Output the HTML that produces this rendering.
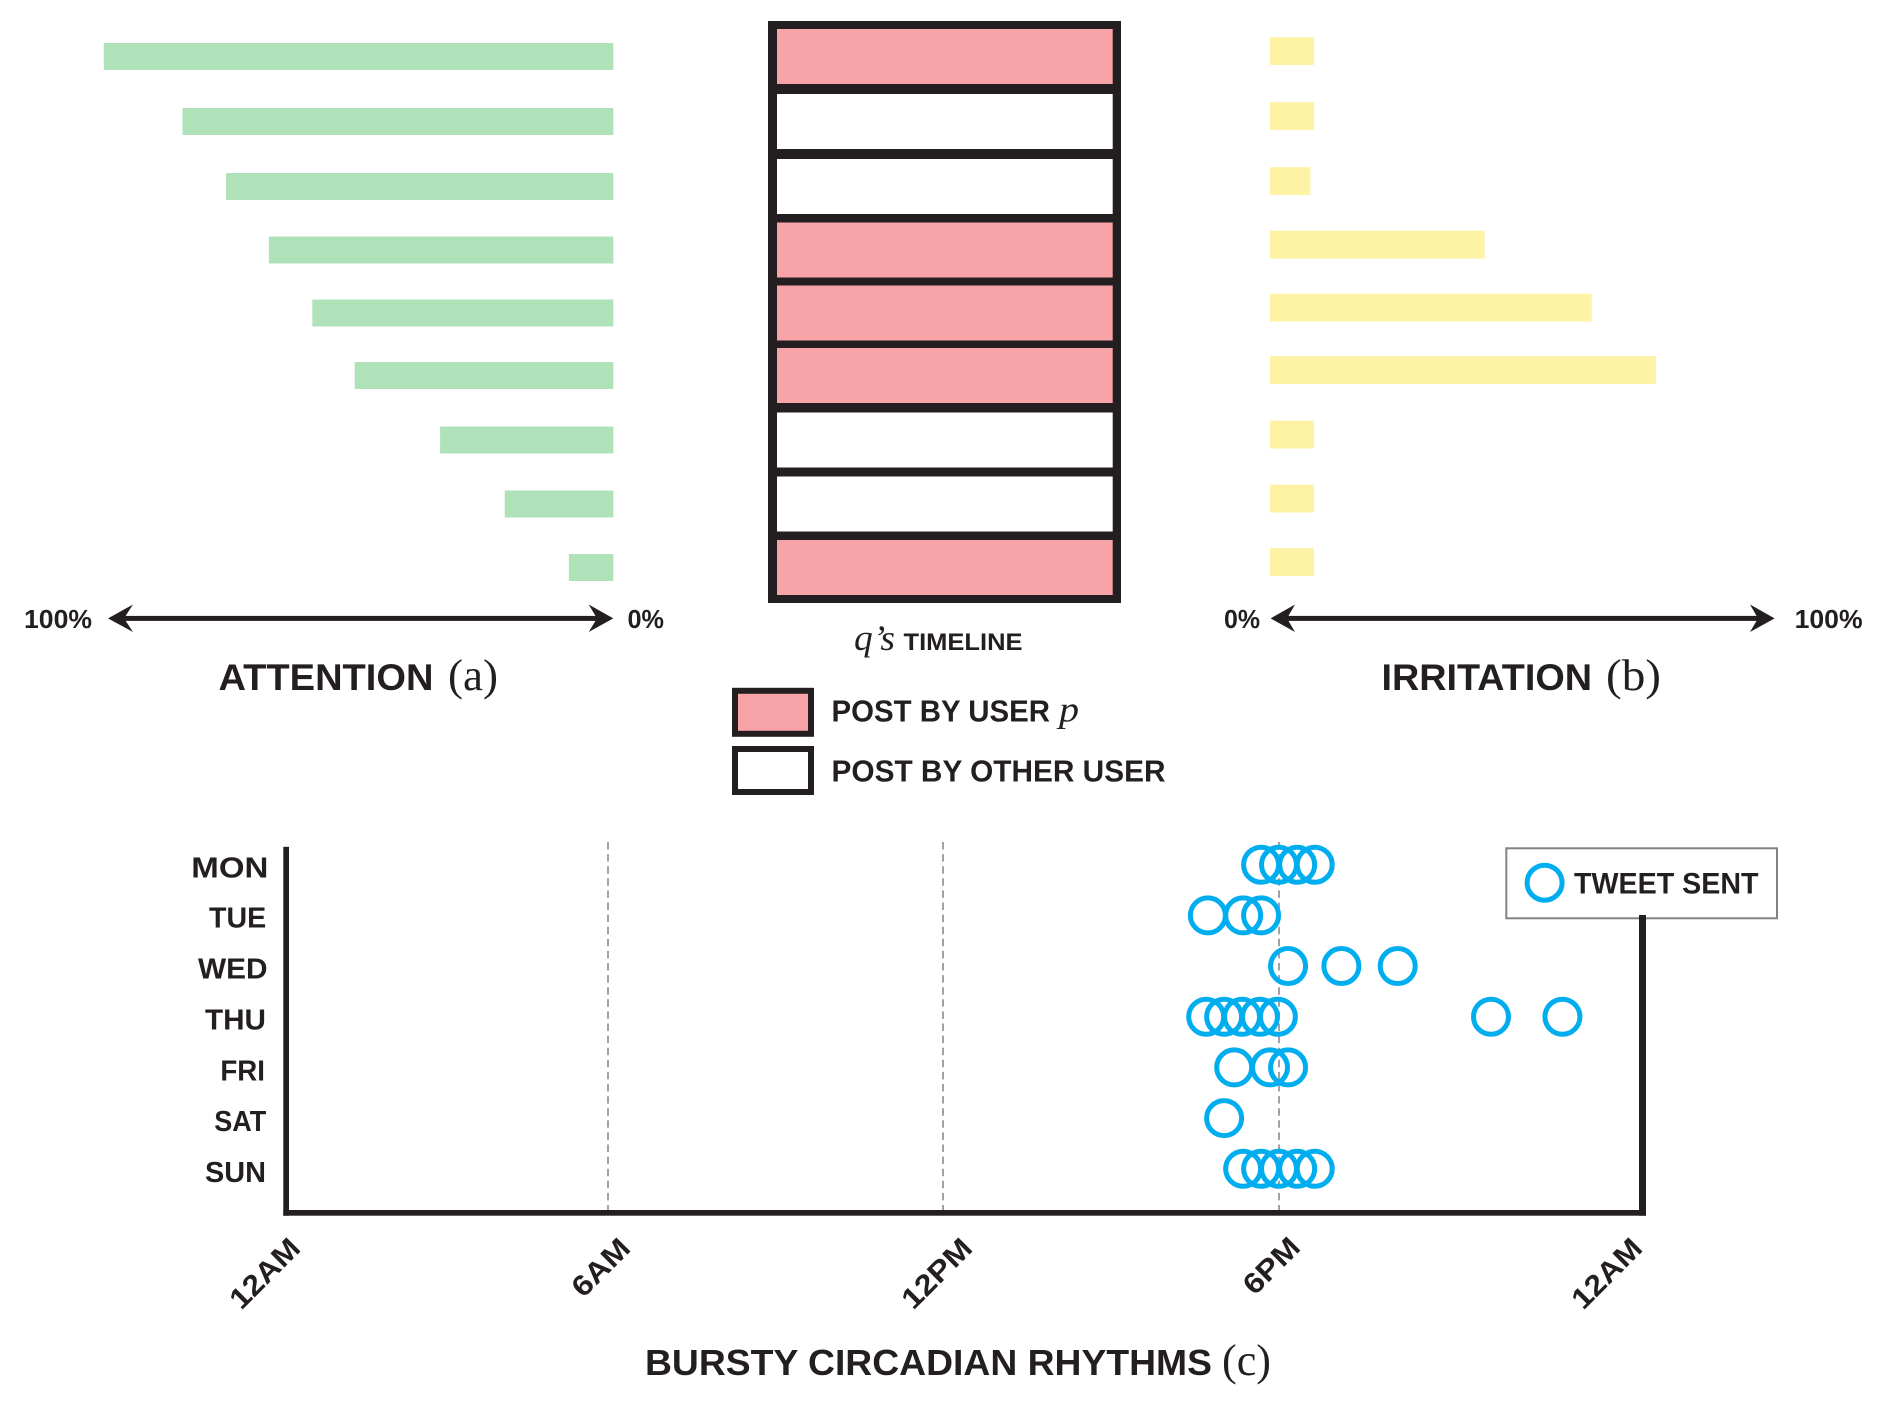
<!DOCTYPE html>
<html lang="en">
<head>
<meta charset="utf-8">
<title>Attention, irritation and bursty circadian rhythms</title>
<style>
html,body{margin:0;padding:0;background:#fff}
svg{display:block}
.s{font-family:"Liberation Sans",sans-serif;font-weight:700;fill:#231f20}
.r{font-family:"Liberation Serif",serif;fill:#231f20}
</style>
</head>
<body>
<svg id="chart" xmlns="http://www.w3.org/2000/svg" width="1881" height="1404" viewBox="0 0 1881 1404">
  <rect x="0" y="0" width="1881" height="1404" fill="#fff"/>
  <g id="attention-bars"></g>
  <g id="irritation-bars"></g>
  <rect x="768" y="21" width="353" height="582" fill="#231f20"/>
  <g id="timeline-rows"></g>

  <g fill="#231f20">
    <rect x="118" y="615.9" width="485" height="5"/>
    <polygon points="108,618.4 133,604.5 124,618.4 133,632"/>
    <polygon points="613.3,618.4 588.7,604.5 597,618.4 588.7,632"/>
  </g>
  <g fill="#231f20">
    <rect x="1280" y="615.9" width="485" height="5"/>
    <polygon points="1270.6,618.4 1295,604.5 1287,618.4 1295,632"/>
    <polygon points="1774.6,618.4 1750,604.5 1758,618.4 1750,632"/>
  </g>

  <text class="s" x="24" y="628" font-size="26" textLength="68" lengthAdjust="spacingAndGlyphs">100%</text>
  <text class="s" x="627.5" y="628" font-size="26" textLength="36.5" lengthAdjust="spacingAndGlyphs">0%</text>
  <text class="s" x="1224" y="628" font-size="26" textLength="36" lengthAdjust="spacingAndGlyphs">0%</text>
  <text class="s" x="1794.6" y="628" font-size="26" textLength="68" lengthAdjust="spacingAndGlyphs">100%</text>

  <text class="s" x="218.5" y="689.8" font-size="37" textLength="215" lengthAdjust="spacingAndGlyphs">ATTENTION</text>
  <text class="r" x="448" y="689.8" font-size="44" textLength="50" lengthAdjust="spacingAndGlyphs">(a)</text>
  <text class="s" x="1381.5" y="689.8" font-size="37" textLength="210.5" lengthAdjust="spacingAndGlyphs">IRRITATION</text>
  <text class="r" x="1606" y="689.8" font-size="44" textLength="55" lengthAdjust="spacingAndGlyphs">(b)</text>

  <text class="r" x="854" y="650" font-size="36" font-style="italic" textLength="41" lengthAdjust="spacingAndGlyphs">q’s</text>
  <text class="s" x="903.5" y="650" font-size="24.5" textLength="119" lengthAdjust="spacingAndGlyphs">TIMELINE</text>

  <rect x="735" y="690.8" width="76" height="43" fill="#f8a3a7" stroke="#231f20" stroke-width="6"/>
  <text class="s" x="831.5" y="721.4" font-size="30.5" textLength="218.5" lengthAdjust="spacingAndGlyphs">POST BY USER</text>
  <text class="r" x="1059" y="721.4" font-size="36" font-style="italic" textLength="20" lengthAdjust="spacingAndGlyphs">p</text>
  <rect x="735" y="749" width="76" height="43" fill="#fff" stroke="#231f20" stroke-width="6"/>
  <text class="s" x="831.5" y="781.6" font-size="30.5" textLength="334" lengthAdjust="spacingAndGlyphs">POST BY OTHER USER</text>

  <g id="grid-lines"></g>
  <rect x="1506.3" y="848.3" width="270.7" height="70" fill="#fff" stroke="#808285" stroke-width="2"/>
  <circle cx="1544.6" cy="882.7" r="17.5" fill="none" stroke="#00aeef" stroke-width="5"/>
  <text class="s" x="1574" y="893.3" font-size="29.5" textLength="184.5" lengthAdjust="spacingAndGlyphs">TWEET SENT</text>

  <g fill="#231f20">
    <rect x="283.3" y="846.8" width="5.7" height="368.9"/>
    <rect x="283.3" y="1210" width="1362.7" height="5.7"/>
    <rect x="1639" y="915" width="7" height="300.7"/>
  </g>
  <g id="tweet-marks"></g>

  <text class="s" x="191.3" y="877.5" font-size="28.5" textLength="77.1" lengthAdjust="spacingAndGlyphs">MON</text>
  <text class="s" x="209" y="927.6" font-size="28.5" textLength="57.2" lengthAdjust="spacingAndGlyphs">TUE</text>
  <text class="s" x="198" y="978.5" font-size="28.5" textLength="69.6" lengthAdjust="spacingAndGlyphs">WED</text>
  <text class="s" x="205" y="1029.6" font-size="28.5" textLength="61" lengthAdjust="spacingAndGlyphs">THU</text>
  <text class="s" x="220.4" y="1080.6" font-size="28.5" textLength="44.6" lengthAdjust="spacingAndGlyphs">FRI</text>
  <text class="s" x="214.3" y="1131" font-size="28.5" textLength="52" lengthAdjust="spacingAndGlyphs">SAT</text>
  <text class="s" x="205" y="1182" font-size="28.5" textLength="61" lengthAdjust="spacingAndGlyphs">SUN</text>

  <text class="s" transform="translate(302 1250) rotate(-45)" text-anchor="end" font-size="29" textLength="86" lengthAdjust="spacingAndGlyphs">12AM</text>
  <text class="s" transform="translate(632 1250) rotate(-45)" text-anchor="end" font-size="29" textLength="69" lengthAdjust="spacingAndGlyphs">6AM</text>
  <text class="s" transform="translate(974 1250) rotate(-45)" text-anchor="end" font-size="29" textLength="86" lengthAdjust="spacingAndGlyphs">12PM</text>
  <text class="s" transform="translate(1302 1249) rotate(-45)" text-anchor="end" font-size="29" textLength="67" lengthAdjust="spacingAndGlyphs">6PM</text>
  <text class="s" transform="translate(1644 1250) rotate(-45)" text-anchor="end" font-size="29" textLength="86" lengthAdjust="spacingAndGlyphs">12AM</text>

  <text class="s" x="645" y="1375" font-size="36.5" textLength="567" lengthAdjust="spacingAndGlyphs">BURSTY CIRCADIAN RHYTHMS</text>
  <text class="r" x="1222" y="1375" font-size="44" textLength="49" lengthAdjust="spacingAndGlyphs">(c)</text>
</svg>
<script>
// Panel (a): attention per post, in percent
const attentionValues = [100.9, 85.3, 76.7, 68.2, 59.6, 51.2, 34.3, 21.5, 8.8];
// Panel (b): irritation per post, in percent
const irritationValues = [8.7, 8.7, 8, 42.5, 63.7, 76.4, 8.7, 8.7, 8.7];
// Timeline: 1 = post by user p, 0 = post by other user
const timelinePosts = [1, 0, 0, 1, 1, 1, 0, 0, 1];
// Panel (c): grid hours and tweet hours for each day
const gridHours = [6, 12, 18];
const monHours = [17.68, 18, 18.3, 18.59];
const tueHours = [16.73, 17.36, 17.68];
const wedHours = [18.15, 19.03, 19.96];
const thuHours = [16.7, 17.02, 17.34, 17.66, 17.98, 21.5, 22.68];
const friHours = [17.2, 17.84, 18.15];
const satHours = [17.02];
const sunHours = [17.36, 17.68, 18, 18.3, 18.59];
const dayNames = ['mon', 'tue', 'wed', 'thu', 'fri', 'sat', 'sun'];
const weekHours = [monHours, tueHours, wedHours, thuHours, friHours, satHours, sunHours];

const NS = 'http://www.w3.org/2000/svg';
// Row spacing in the source figure tightens through the middle rows.
function rowTop(top, i) {
  const base = i < 2 ? top + 65 * i : top + 130 + 63.5 * (i - 2);
  return base - Math.max(0, 1.5 - Math.abs(i - 5));
}
function attentionX(v) {
  return 613.3 - v * 5.05;
}
function irritationX(v) {
  return 1270 + v * 5.05;
}
// The printed hour axis is not perfectly even, so it is mapped by its four 6-hour segments.
function hourX(h) {
  if (h <= 6) return 286.2 + (h / 6) * 321.8;
  if (h <= 12) return 608 + ((h - 6) / 6) * 335;
  if (h <= 18) return 943 + ((h - 12) / 6) * 336;
  return 1279 + ((h - 18) / 6) * 363.4;
}
function dayY(i) {
  return 864.7 + i * 50.68;
}
function make(tag, parentId, attrs) {
  const el = document.createElementNS(NS, tag);
  Object.keys(attrs).forEach(function (k) { el.setAttribute(k, attrs[k]); });
  document.getElementById(parentId).appendChild(el);
  return el;
}

attentionValues.forEach(function (v, i) {
  const left = attentionX(v);
  const el = make('rect', 'attention-bars', {x: left, y: rowTop(43, i), width: 613.3 - left, height: 27, fill: '#b0e2b9'});
  
  
});

irritationValues.forEach(function (v, i) {
  const el = make('rect', 'irritation-bars', {x: 1270, y: rowTop(37.2, i), width: irritationX(v) - 1270, height: 27.8, fill: '#fef2a5'});
  
  
});

timelinePosts.forEach(function (p, i) {
  const el = make('rect', 'timeline-rows', {x: 777, y: rowTop(29, i), width: 335.7, height: 55, fill: p ? '#f8a3a7' : '#ffffff'});
  
  
});

gridHours.forEach(function (h) {
  const x = hourX(h);
  const el = make('line', 'grid-lines', {x1: x, x2: x, y1: 842, y2: 1210, stroke: '#a0a2a5', 'stroke-width': 2, 'stroke-dasharray': '7.5 4.6'});
  
  
});

weekHours.forEach(function (hours, d) {
  hours.forEach(function (h) {
    const el = make('circle', 'tweet-marks', {cx: hourX(h), cy: dayY(d), r: 17.5, fill: 'none', stroke: '#00aeef', 'stroke-width': 5});
    
    
  });
});
</script>
</body>
</html>
